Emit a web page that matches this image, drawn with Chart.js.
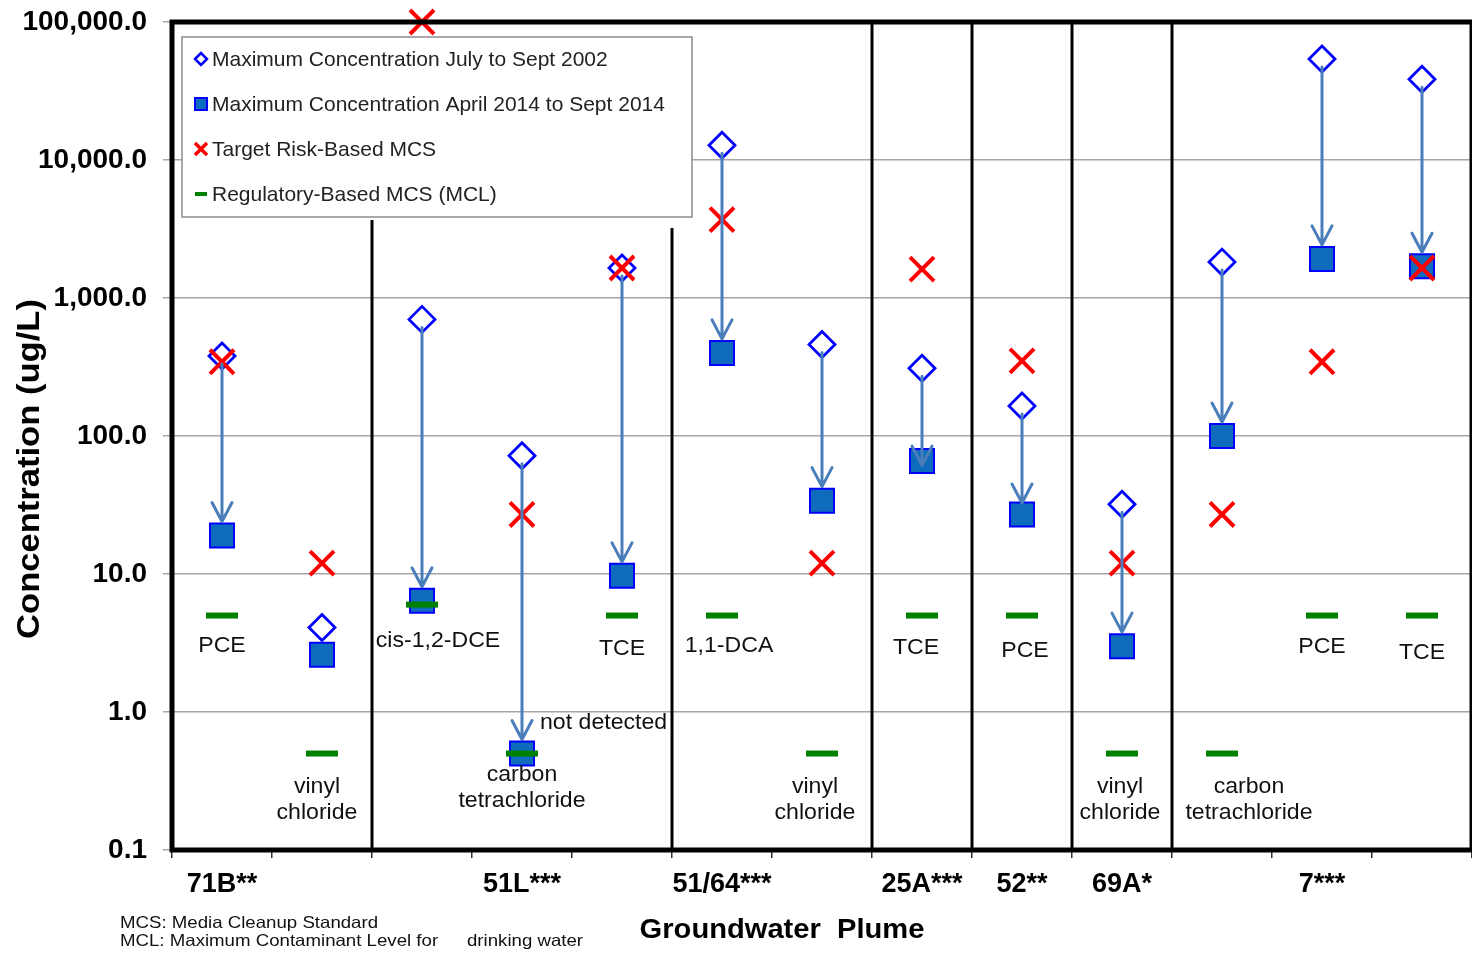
<!DOCTYPE html>
<html lang="en">
<head>
<meta charset="utf-8" />
<title>Maximum concentrations by groundwater plume</title>
<style>
*{box-sizing:border-box;margin:0;padding:0}
body{background:#fff;width:1472px;height:953px;overflow:hidden}
/* a bit wider than the window: Chart.js keeps point-overflow padding on the right */
#wrap{position:relative;width:1494px;height:953px}
</style>
</head>
<body>
<div id="wrap"><canvas id="plumeChart"></canvas></div>

<script src="https://cdn.jsdelivr.net/npm/chart.js@4.4.1"></script>
<script>
/* ─── values (ug/L) ─── */
const compounds = ['PCE','vinyl chloride','cis-1,2-DCE','carbon tetrachloride','TCE',
                   '1,1-DCA','vinyl chloride','TCE','PCE','vinyl chloride',
                   'carbon tetrachloride','PCE','TCE'];
const plumes    = ['71B**','71B**','51L***','51L***','51L***','51/64***','51/64***',
                   '25A***','52**','69A*','7***','7***','7***'];
const max2002   = [380, 4.1, 700, 72, 1650, 12800, 460, 310, 165, 32, 1820, 54000, 38500];
const max2014   = [19, 2.6, 6.4, 0.5, 9.7, 400, 34, 66, 27, 3.0, 100, 1920, 1700];
const riskMCS   = [345, 12, 100000, 27, 1650, 3700, 12, 1620, 350, 12, 27, 345, 1650];
const mclMCS    = [5, 0.5, 6, 0.5, 5, 5, 0.5, 5, 5, 0.5, 0.5, 5, 5];
const notDetected = [3];               // columns where the 2014 value is a non-detect
const yTicks    = [0.1, 1, 10, 100, 1000, 10000, 100000];

const seriesNames = ['Maximum Concentration July to Sept 2002',
                     'Maximum Concentration April 2014 to Sept 2014',
                     'Target Risk-Based MCS',
                     'Regulatory-Based MCS (MCL)'];

/* colours */
const BLUE = '#0000ff', FILL = '#0f6cbd', RED = '#ff0000', GREEN = '#008000', ARROW = '#4a7ebb';
const FONT = "'Liberation Sans', Arial, Helvetica, sans-serif";

/* label nudges for the compound names (px from column centre / MCL mark) */
const labelNudge = [[0,30],[-5,33],[16,36],[0,21],[0,33],[7,30],[-7,33],[-6,32],[3,35],[-2,33],[27,33],[0,31],[0,37]];

/* x label only once per plume: middle column (first of the two for even groups) */
const labelCol = plumes.map((p,i)=>{
    const idx = plumes.map((q,j)=>q===p?j:-1).filter(j=>j>=0);
    return idx[Math.floor((idx.length-1)/2)] === i;
});

Chart.defaults.font.family = FONT;
Chart.defaults.color = '#000';

function arrow(ctx, x, y0, y1){
    ctx.save();
    ctx.strokeStyle = ARROW; ctx.lineWidth = 3; ctx.lineCap = 'round'; ctx.lineJoin = 'round';
    ctx.beginPath();
    ctx.moveTo(x, y0); ctx.lineTo(x, y1);
    ctx.moveTo(x-10, y1-19); ctx.lineTo(x, y1); ctx.lineTo(x+10, y1-19);
    ctx.stroke();
    ctx.restore();
}

// text a little wider than the font gives, like the source figure
function wideText(ctx, s, x, y, sx){
    ctx.save();
    ctx.translate(x, y); ctx.scale(sx, 1);
    ctx.fillText(s, 0, 0);
    ctx.restore();
}

function legendMark(ctx, k, x, y){
    ctx.save();
    ctx.beginPath();
    if(k===0){
        ctx.strokeStyle = BLUE; ctx.lineWidth = 2.5; ctx.fillStyle = '#fff';
        ctx.moveTo(x-6,y); ctx.lineTo(x,y-6); ctx.lineTo(x+6,y); ctx.lineTo(x,y+6); ctx.closePath();
        ctx.fill(); ctx.stroke();
    } else if(k===1){
        ctx.fillStyle = FILL; ctx.strokeStyle = BLUE; ctx.lineWidth = 2;
        ctx.rect(x-6,y-6,12,12); ctx.fill(); ctx.stroke();
    } else if(k===2){
        ctx.strokeStyle = RED; ctx.lineWidth = 3.5;
        ctx.moveTo(x-6,y-6); ctx.lineTo(x+6,y+6); ctx.moveTo(x+6,y-6); ctx.lineTo(x-6,y+6); ctx.stroke();
    } else {
        ctx.strokeStyle = GREEN; ctx.lineWidth = 4;
        ctx.moveTo(x-6,y); ctx.lineTo(x+6,y); ctx.stroke();
    }
    ctx.restore();
}

const decor = {
    id:'decor',
    beforeDatasetsDraw(chart){
        const {ctx, chartArea:a, scales:{x}} = chart;
        ctx.save();
        ctx.strokeStyle = '#000'; ctx.lineWidth = 3;
        for(let i=0;i<plumes.length-1;i++){
            if(plumes[i]===plumes[i+1]) continue;
            const sx = (x.getPixelForValue(i)+x.getPixelForValue(i+1))/2;
            const top = sx < 700 ? 220 + (sx>600?8:0) : a.top;
            ctx.beginPath(); ctx.moveTo(sx, top); ctx.lineTo(sx, a.bottom); ctx.stroke();
        }
        ctx.restore();
    },
    afterDatasetsDraw(chart){
        const {ctx, scales:{x,y}} = chart;
        max2002.forEach((v,i)=>{
            const yA = y.getPixelForValue(v), yB = y.getPixelForValue(max2014[i]);
            if(yB - yA > 40) arrow(ctx, x.getPixelForValue(i), yA + 8, Math.max(yB - 14, yA + 97));
        });
    },
    afterDraw(chart){
        const {ctx, chartArea:a, scales:{x,y}} = chart;
        ctx.save();

        /* compound names under the MCL marks */
        ctx.fillStyle = '#111'; ctx.font = `22px ${FONT}`;
        ctx.textAlign = 'center'; ctx.textBaseline = 'middle';
        compounds.forEach((name,i)=>{
            const cx = x.getPixelForValue(i) + labelNudge[i][0];
            const cy = y.getPixelForValue(mclMCS[i]) + labelNudge[i][1];
            name.split(' ').forEach((ln,k)=>wideText(ctx, ln, cx, cy + k*26, 1.05));
        });
        ctx.textAlign = 'left';
        notDetected.forEach(i=>{
            wideText(ctx, 'not detected', x.getPixelForValue(i)+18, y.getPixelForValue(max2014[i])-31, 1.05);
        });

        /* legend box */
        const lx = a.left + 10, ly = 37, lw = 510, lh = 180;
        ctx.fillStyle = '#fff'; ctx.fillRect(lx, ly, lw, lh);
        ctx.strokeStyle = '#8c8c8c'; ctx.lineWidth = 1.5; ctx.strokeRect(lx, ly, lw, lh);
        ctx.font = `21px ${FONT}`; ctx.fillStyle = '#222';
        seriesNames.forEach((s,k)=>{
            const ry = 59 + k*45;
            legendMark(ctx, k, lx + 19, ry);
            ctx.fillText(s, lx + 30, ry + 1);
        });

        /* heavy frame */
        ctx.strokeStyle = '#000'; ctx.lineWidth = 5;
        ctx.strokeRect(a.left, a.top, a.right - a.left, a.bottom - a.top);

        /* axis titles + notes */
        ctx.fillStyle = '#000'; ctx.textAlign = 'center';
        ctx.font = `bold 28px ${FONT}`;
        wideText(ctx, 'Groundwater  Plume', 782, 930, 1.04);
        ctx.save();
        ctx.translate(30, 469); ctx.rotate(-Math.PI/2);
        ctx.font = `bold 32px ${FONT}`;
        wideText(ctx, 'Concentration (ug/L)', 0, 0, 1.08);
        ctx.restore();
        ctx.textAlign = 'left'; ctx.font = `16.5px ${FONT}`; ctx.fillStyle = '#111';
        wideText(ctx, 'MCS: Media Cleanup Standard', 120, 923, 1.13);
        wideText(ctx, 'MCL: Maximum Contaminant Level for', 120, 941, 1.13);
        wideText(ctx, 'drinking water', 467, 941, 1.13);
        ctx.restore();
    }
};

new Chart(document.getElementById('plumeChart'), {
    type:'line',
    data:{
        labels: plumes.map((p,i)=>p+' '+compounds[i]),
        datasets:[
            {label:seriesNames[2], data:riskMCS, order:1, showLine:false, clip:false,
             pointStyle:'crossRot', pointRadius:17, pointBorderColor:RED, pointBorderWidth:4},
            {label:seriesNames[3], data:mclMCS, order:2, showLine:false, clip:false,
             pointStyle:'line', pointRadius:16, pointBorderColor:GREEN, pointBorderWidth:6},
            {label:seriesNames[1], data:max2014, order:3, showLine:false, clip:false,
             pointStyle:'rect', pointRadius:17, pointBackgroundColor:FILL, pointBorderColor:BLUE, pointBorderWidth:2},
            {label:seriesNames[0], data:max2002, order:4, showLine:false, clip:false,
             pointStyle:'rectRot', pointRadius:13, pointBackgroundColor:'#fff', pointBorderColor:BLUE, pointBorderWidth:2.8}
        ]
    },
    options:{
        responsive:true,
        maintainAspectRatio:false,
        animation:false,
        layout:{padding:{top:22, right:3, left:0, bottom:0}},
        plugins:{legend:{display:false}, tooltip:{enabled:false}},
        scales:{
            x:{
                type:'category',
                offset:true,
                border:{display:false},
                grid:{drawOnChartArea:false, offset:true, tickLength:8, color:'#333', lineWidth:1.5},
                ticks:{
                    autoSkip:false, maxRotation:0, padding:10,
                    font:{size:27, weight:'bold'},
                    callback:(v,i)=>labelCol[i] ? plumes[i] : ''
                },
                afterFit:s=>{ s.height = 103; }
            },
            y:{
                type:'logarithmic',
                min:0.1, max:100000,
                border:{display:false},
                grid:{color:'#a6a6a6', lineWidth:1.5, tickLength:9},
                afterBuildTicks:s=>{ s.ticks = yTicks.map(v=>({value:v})); },
                ticks:{
                    padding:16,
                    font:{size:28, weight:'bold', lineHeight:0.4},
                    callback:v=>Number(v).toLocaleString('en-US',{minimumFractionDigits:1, maximumFractionDigits:1})
                },
                afterFit:s=>{ s.width = 172; }
            }
        }
    },
    plugins:[decor]
});
</script>
</body>
</html>
